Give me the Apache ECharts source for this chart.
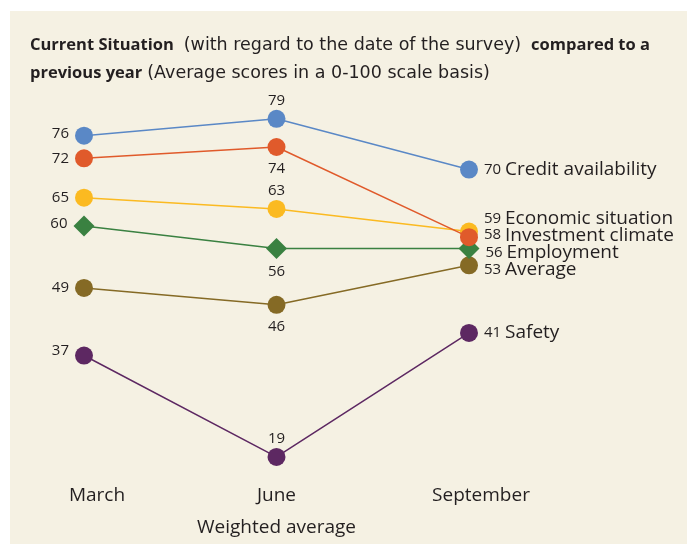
<!DOCTYPE html>
<html>
<head>
<meta charset="utf-8">
<style>
  html, body { margin: 0; padding: 0; background: #fff; }
  #chart { width: 687px; height: 544px; }
</style>
<script src="https://cdn.jsdelivr.net/npm/echarts@6/dist/echarts.min.js"></script>
</head>
<body>
<div id="chart"></div>
<script>
var categories = ["March", "June", "September"];
var seriesNames = ["Credit availability", "Investment climate", "Economic situation", "Employment", "Average", "Safety"];
var creditValues = [76, 79, 70];
var investmentValues = [72, 74, 58];
var economicValues = [65, 63, 59];
var employmentValues = [60, 56, 56];
var averageValues = [49, 46, 53];
var safetyValues = [37, 19, 41];

(function buildChart() {
  var chart = echarts.init(document.getElementById("chart"));
  var textColor = "#231f20";
  var font = "Open Sans";

  var colors = ["#5a88c6", "#e05a2b", "#fbba21", "#3a8141", "#856a25", "#5d2862"];
  var symbols = ["circle", "circle", "circle", "diamond", "circle", "circle"];
  var allValues = [creditValues, investmentValues, economicValues, employmentValues, averageValues, safetyValues];
  // label placement: June above/below, nudges so the September labels don't collide
  var junePos = ["top", "bottom", "top", "bottom", "bottom", "top"];
  var marchOffset = [[0, -2], [0, 0], [0, 0], [0, -2], [0, 0], [0, -5]];
  var septOffset = [[0, 0], [0, -2], [0, -13], [0, 4], [0, 4], [0, 0]];

  function makeSeries(idx) {
    var vals = allValues[idx];
    var data = vals.map(function (v, i) {
      var label;
      if (i === 0) {
        label = { position: "left", distance: 6, offset: marchOffset[idx] };
      } else if (i === 1) {
        label = { position: junePos[idx], distance: junePos[idx] === "top" ? 2 : 5 };
      } else {
        label = {
          position: "right",
          distance: 6,
          offset: septOffset[idx],
          formatter: "{v|{c}} {n|" + seriesNames[idx] + "}",
          rich: {
            v: { fontSize: 15, color: textColor, fontFamily: font },
            n: { fontSize: 19, color: textColor, fontFamily: font }
          }
        };
      }
      return { value: v, label: label };
    });
    return {
      name: seriesNames[idx],
      type: "line",
      data: data,
      symbol: symbols[idx],
      symbolSize: symbols[idx] === "diamond" ? 21 : 18,
      showAllSymbol: true,
      lineStyle: { color: colors[idx], width: 1.5 },
      itemStyle: { color: colors[idx] },
      label: { show: true, fontSize: 15, color: textColor, fontFamily: font },
      emphasis: { disabled: true },
      z: 10 - idx
    };
  }

  var series = [];
  for (var i = 0; i < allValues.length; i += 1) series.push(makeSeries(i));

  // month labels sit a little right of their points in the original
  var labelShift = { March: 26, June: 0, September: 24 };

  chart.setOption({
    backgroundColor: "#ffffff",
    animation: false,
    graphic: [{
      type: "rect",
      left: 10, top: 11,
      shape: { width: 677, height: 533 },
      style: { fill: "#f5f1e3" },
      z: -10
    }],
    title: {
      left: 25, top: 26,
      text: "{b|Current Situation}  {r|(with regard to the date of the survey)}  {b|compared to a}\n{b|previous year} {r|(Average scores in a 0-100 scale basis)}",
      textStyle: {
        lineHeight: 28,
        fontWeight: "normal",
        rich: {
          b: { fontSize: 16.5, fontWeight: "bold", color: textColor, fontFamily: font, lineHeight: 28 },
          r: { fontSize: 17.5, fontWeight: "normal", color: textColor, fontFamily: "DejaVu Sans", lineHeight: 28 }
        }
      }
    },
    grid: { left: 84, right: 218, top: 85, bottom: 64.5 },
    xAxis: {
      type: "category",
      data: categories,
      boundaryGap: false,
      axisLine: { show: false },
      axisTick: { show: false },
      axisLabel: {
        interval: 0,
        fontSize: 19, color: textColor, margin: 7, fontFamily: font,
        formatter: function (v) { return "{s" + labelShift[v] + "|" + v + "}"; },
        rich: {
          s26: { fontSize: 19, color: textColor, fontFamily: font, padding: [0, 0, 0, 26] },
          s0: { fontSize: 19, color: textColor, fontFamily: font },
          s24: { fontSize: 19, color: textColor, fontFamily: font, padding: [0, 0, 0, 24] }
        }
      },
      name: "Weighted average",
      nameLocation: "middle",
      nameGap: 39,
      nameTextStyle: { fontSize: 19, color: textColor, fontFamily: font }
    },
    yAxis: {
      type: "value",
      min: 15, max: 85,
      show: false,
      splitLine: { show: false }
    },
    series: series
  });
})();
</script>
</body>
</html>
